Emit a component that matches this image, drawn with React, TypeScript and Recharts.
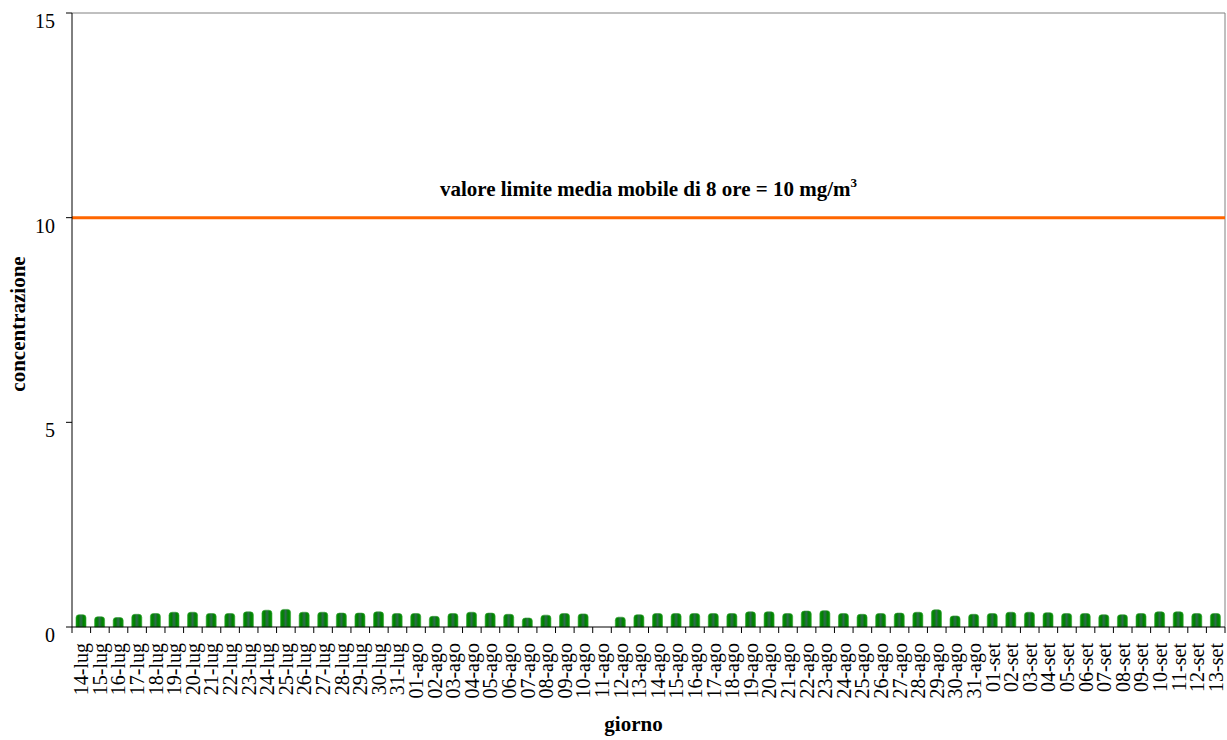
import { BarChart, Bar, XAxis, YAxis, ReferenceLine, Label } from 'recharts';

const days = [
  '14-lug', '15-lug', '16-lug', '17-lug', '18-lug', '19-lug', '20-lug', '21-lug', '22-lug',
  '23-lug', '24-lug', '25-lug', '26-lug', '27-lug', '28-lug', '29-lug', '30-lug', '31-lug',
  '01-ago', '02-ago', '03-ago', '04-ago', '05-ago', '06-ago', '07-ago', '08-ago', '09-ago',
  '10-ago', '11-ago', '12-ago', '13-ago', '14-ago', '15-ago', '16-ago', '17-ago', '18-ago',
  '19-ago', '20-ago', '21-ago', '22-ago', '23-ago', '24-ago', '25-ago', '26-ago', '27-ago',
  '28-ago', '29-ago', '30-ago', '31-ago',
  '01-set', '02-set', '03-set', '04-set', '05-set', '06-set', '07-set', '08-set', '09-set',
  '10-set', '11-set', '12-set', '13-set',
];

// max media mobile 8 ore (mg/m3), 11-ago senza dato
const concentrazione: (number | null)[] = [
  0.30, 0.25, 0.23, 0.31, 0.33, 0.36, 0.36, 0.33, 0.33,
  0.37, 0.41, 0.43, 0.36, 0.36, 0.34, 0.34, 0.37, 0.33,
  0.33, 0.26, 0.33, 0.36, 0.34, 0.31, 0.22, 0.29, 0.33,
  0.32, null, 0.24, 0.30, 0.33, 0.33, 0.33, 0.33, 0.33,
  0.37, 0.37, 0.33, 0.39, 0.40, 0.33, 0.31, 0.33, 0.34,
  0.36, 0.42, 0.27, 0.31,
  0.33, 0.36, 0.36, 0.35, 0.33, 0.33, 0.30, 0.30, 0.33,
  0.37, 0.37, 0.33, 0.33,
];

const yTicks = [0, 5, 10, 15];
const limite = 10;

const data = days.map((d, i) => ({ giorno: d, valore: concentrazione[i] }));

const FONT = '"Liberation Serif", "Times New Roman", serif';
const W = 1227;
const H = 740;
const LEFT = 72;
const RIGHT_M = 2;
const BAND = (W - LEFT - RIGHT_M) / days.length;

const XTick = (props: any) => {
  const { x, y, payload, index } = props;
  const left = x - BAND / 2;
  return (
    <g>
      <line x1={left} y1={y} x2={left} y2={y + 6} stroke="#000" />
      {index === days.length - 1 && (
        <line x1={x + BAND / 2} y1={y} x2={x + BAND / 2} y2={y + 6} stroke="#000" />
      )}
      <text
        transform={`translate(${x},${y + 16}) rotate(-90)`}
        textAnchor="end"
        dominantBaseline="central"
        fontFamily={FONT}
        fontSize={20}
        fill="#000"
      >
        {payload.value}
      </text>
    </g>
  );
};

const YTick = (props: any) => {
  const { y, payload } = props;
  return (
    <text x={55} y={y + 8} textAnchor="end" fontFamily={FONT} fontSize={20} fill="#000" dominantBaseline="central">
      {payload.value}
    </text>
  );
};

const LimitLabel = (props: any) => {
  const vb = props.viewBox;
  return (
    <text
      x={vb.x + vb.width / 2}
      y={vb.y - 22}
      textAnchor="middle"
      fontFamily={FONT}
      fontSize={21}
      fontWeight="bold"
      fill="#000"
    >
      valore limite media mobile di 8 ore = 10 mg/m
      <tspan dy={-9} fontSize={13}>3</tspan>
    </text>
  );
};

const YLabel = (props: any) => {
  const vb = props.viewBox;
  const cy = vb.y + vb.height / 2 + 4;
  return (
    <text
      transform={`translate(18,${cy}) rotate(-90)`}
      textAnchor="middle"
      dominantBaseline="central"
      fontFamily={FONT}
      fontSize={21}
      fontWeight="bold"
      fill="#000"
    >
      concentrazione
    </text>
  );
};

const XLabel = (props: any) => {
  const vb = props.viewBox;
  return (
    <text
      x={vb.x + vb.width / 2 - 15}
      y={731}
      textAnchor="middle"
      fontFamily={FONT}
      fontSize={21}
      fontWeight="bold"
      fill="#000"
    >
      giorno
    </text>
  );
};

export default function App() {
  return (
    <div style={{ width: W, height: H, background: '#fff' }}>
      <style>{'body{margin:0;}'}</style>
      <BarChart
        width={W}
        height={H}
        data={data}
        margin={{ top: 13, right: RIGHT_M, bottom: 0, left: 0 }}
        barSize={10}
      >
        <defs>
          <linearGradient id="barFill" x1="0" y1="0" x2="1" y2="0">
            <stop offset="0%" stopColor="#0a930a" />
            <stop offset="25%" stopColor="#008000" />
            <stop offset="50%" stopColor="#2f6a4f" />
            <stop offset="75%" stopColor="#008000" />
            <stop offset="100%" stopColor="#0a930a" />
          </linearGradient>
        </defs>
        <XAxis
          dataKey="giorno"
          interval={0}
          height={H - 627}
          tickSize={0}
          tickMargin={0}
          tickLine={false}
          axisLine={{ stroke: '#000' }}
          tick={<XTick />}
        >
          <Label content={<XLabel />} />
        </XAxis>
        <YAxis
          width={LEFT}
          domain={[0, 15]}
          ticks={yTicks}
          interval={0}
          tickSize={6}
          tickLine={{ stroke: '#000' }}
          axisLine={{ stroke: '#000' }}
          tick={<YTick />}
        >
          <Label content={<YLabel />} />
        </YAxis>
        <ReferenceLine y={15} stroke="#808080" />
        <ReferenceLine x={days[days.length - 1]} position="end" stroke="#808080" />
        <ReferenceLine
          y={limite}
          stroke="#ff6600"
          strokeWidth={3}
          label={<LimitLabel />}
        />
        <Bar
          dataKey="valore"
          fill="url(#barFill)"
          stroke="#2fa02f"
          strokeWidth={0.6}
          radius={[3, 3, 0, 0]}
          isAnimationActive={false}
        />
      </BarChart>
    </div>
  );
}
